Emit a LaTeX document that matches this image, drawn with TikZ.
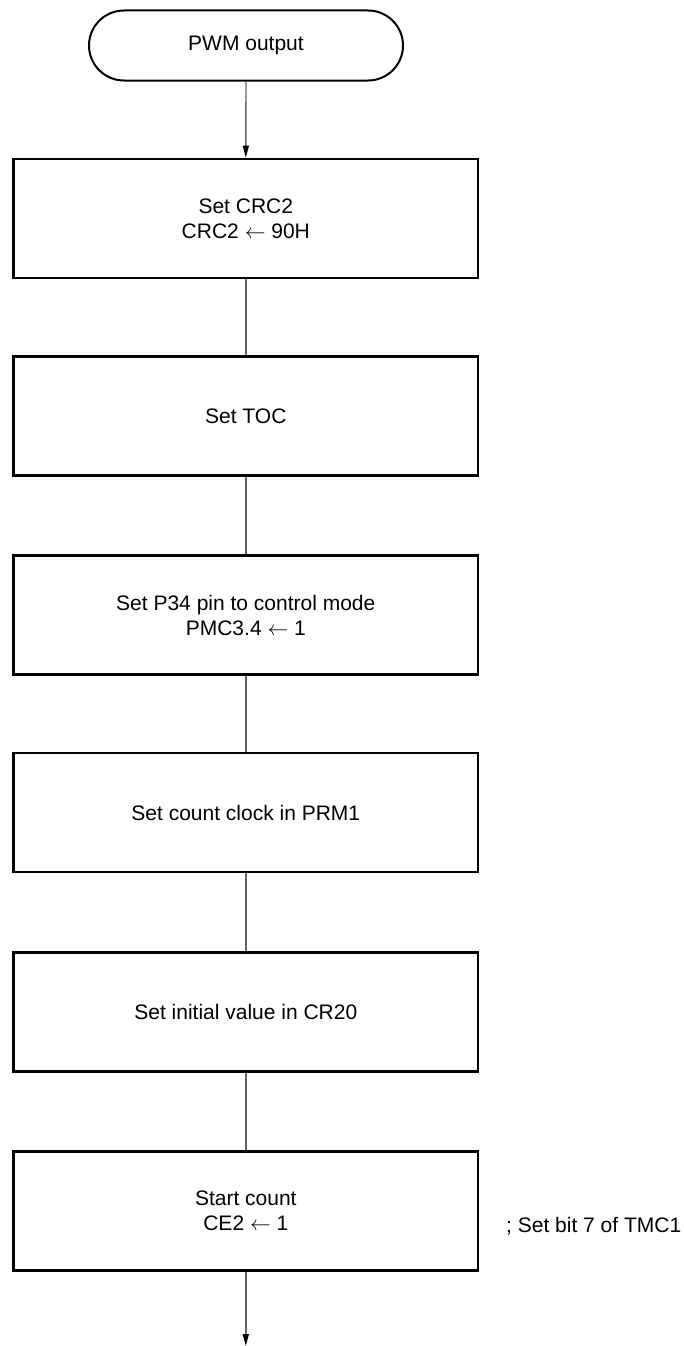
\documentclass[tikz,border=0pt]{standalone}
\usepackage{fontspec}
\setmainfont{Liberation Sans}
\usetikzlibrary{arrows.meta}
\begin{document}
\begin{tikzpicture}[x=1pt,y=-1pt,
  every node/.style={font=\fontsize{21}{25}\selectfont},
  stepbox/.style={draw=black,line width=2.6pt,minimum width=464.5pt,minimum height=119pt,inner sep=0pt,align=center},
  termbox/.style={draw=black,line width=2pt,rounded corners=35pt,minimum width=314pt,minimum height=70pt,inner sep=0pt,align=center},
  conn/.style={draw=black!62,line width=1.4pt},
  arr/.style={conn,-{Stealth[length=12pt,width=6pt,inset=0pt,fill=black,color=black]}}]
\useasboundingbox (0,0) rectangle (684,1346);
\node[termbox] (t) at (246,45.5) {PWM output};
\node[stepbox] (b1) at (245.8,218.5) {Set CRC2\\CRC2 $\leftarrow$ 90H};
\node[stepbox] (b2) at (245.8,416) {Set TOC};
\node[stepbox] (b3) at (245.8,615) {Set P34 pin to control mode\\PMC3.4 $\leftarrow$ 1};
\node[stepbox] (b4) at (245.8,812.5) {Set count clock in PRM1};
\node[stepbox] (b5) at (245.8,1012) {Set initial value in CR20};
\node[stepbox] (b6) at (245.8,1211) {Start count\\CE2 $\leftarrow$ 1};
\node[anchor=base west,inner sep=0pt] (c6) at (506,1232) {; Set bit 7 of TMC1};
\coordinate (end) at (245.8,1346);
\draw[arr] (t.south) -- (b1.north);
\draw[conn] (b1.south) -- (b2.north);
\draw[conn] (b2.south) -- (b3.north);
\draw[conn] (b3.south) -- (b4.north);
\draw[conn] (b4.south) -- (b5.north);
\draw[conn] (b5.south) -- (b6.north);
\draw[arr] (b6.south) -- (end);
\end{tikzpicture}
\end{document}
